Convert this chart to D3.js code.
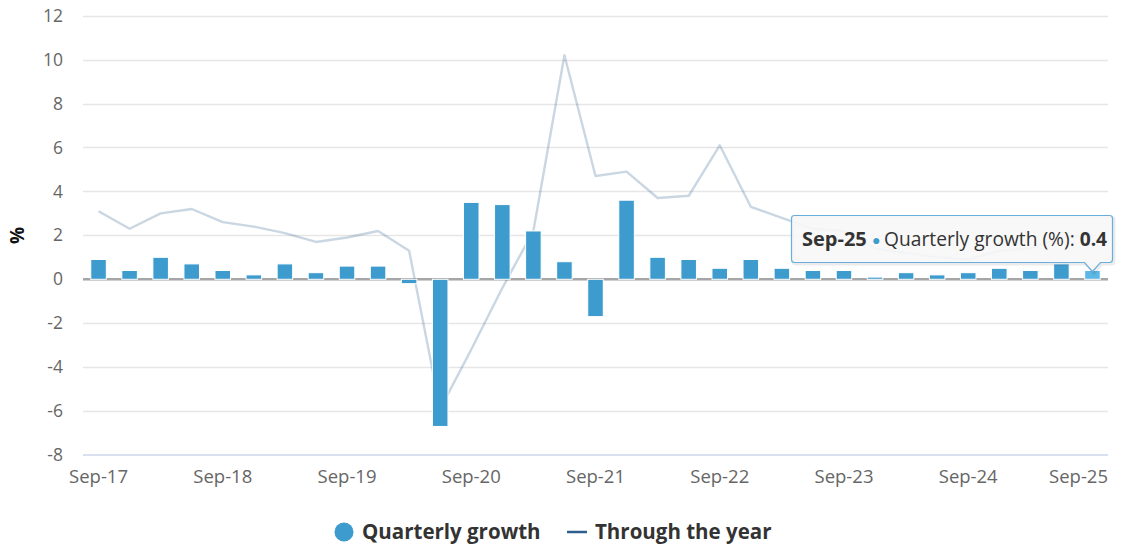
<!DOCTYPE html>
<html>
<head>
<meta charset="utf-8">
<script src="https://cdn.jsdelivr.net/npm/d3@7"></script>
<style>
  body { margin: 0; background: #fff; }
  svg { display: block; font-family: "Open Sans", sans-serif; }
</style>
</head>
<body>
<div id="chart"></div>
<script>
// Quarter labels, Sep-17 .. Sep-25
const quarters = [
  "Sep-17", "Dec-17", "Mar-18", "Jun-18", "Sep-18", "Dec-18", "Mar-19", "Jun-19",
  "Sep-19", "Dec-19", "Mar-20", "Jun-20", "Sep-20", "Dec-20", "Mar-21", "Jun-21",
  "Sep-21", "Dec-21", "Mar-22", "Jun-22", "Sep-22", "Dec-22", "Mar-23", "Jun-23",
  "Sep-23", "Dec-23", "Mar-24", "Jun-24", "Sep-24", "Dec-24", "Mar-25", "Jun-25",
  "Sep-25"
];

// Quarterly growth (%), bars
const quarterlyGrowth = [
  0.9, 0.4, 1.0, 0.7, 0.4, 0.2, 0.7, 0.3,
  0.6, 0.6, -0.2, -6.7, 3.5, 3.4, 2.2, 0.8,
  -1.7, 3.6, 1.0, 0.9, 0.5, 0.9, 0.5, 0.4,
  0.4, 0.1, 0.3, 0.2, 0.3, 0.5, 0.4, 0.7,
  0.4
];

// Through the year (%), line
const throughYear = [
  3.1, 2.3, 3.0, 3.2, 2.6, 2.4, 2.1, 1.7,
  1.9, 2.2, 1.3, -5.9, -3.2, -0.4, 2.2, 10.2,
  4.7, 4.9, 3.7, 3.8, 6.1, 3.3, 2.8, 2.3,
  2.2, 1.4, 1.2, 1.0, 0.9, 1.3, 1.4, 1.9,
  2.0
];

const yTicks = [-8, -6, -4, -2, 0, 2, 4, 6, 8, 10, 12];
const xTickLabels = ["Sep-17", "Sep-18", "Sep-19", "Sep-20", "Sep-21", "Sep-22", "Sep-23", "Sep-24", "Sep-25"];
const hoverIndex = quarters.indexOf("Sep-25");

const width = 1124, height = 544;
const margin = {top: 15.7, right: 16, bottom: 89, left: 83};

const barColor = "#3d9bce";
const barHover = "#5cb6e6";
const lineColor = "#2c5f8c";

const svg = d3.select("#chart").append("svg")
  .attr("width", width)
  .attr("height", height);

const x = d3.scaleBand()
  .domain(quarters)
  .range([margin.left, width - margin.right])
  .paddingInner(0.5)
  .paddingOuter(0.25);

const y = d3.scaleLinear()
  .domain([-8, 12])
  .range([height - margin.bottom, margin.top]);

// gridlines
svg.append("g")
  .selectAll("line")
  .data(yTicks.filter(d => d !== -8))
  .join("line")
    .attr("x1", margin.left)
    .attr("x2", width - margin.right)
    .attr("y1", d => Math.round(y(d)) + 0.5)
    .attr("y2", d => Math.round(y(d)) + 0.5)
    .attr("stroke", "#e6e6e6")
    .attr("stroke-width", 1.3);

// bottom axis line
svg.append("line")
  .attr("x1", margin.left)
  .attr("x2", width - margin.right)
  .attr("y1", y(-8))
  .attr("y2", y(-8))
  .attr("stroke", "#ccd6eb")
  .attr("stroke-width", 1.3);

// y tick labels
const yAxis = d3.axisLeft(y).tickValues(yTicks).tickFormat(d => String(d)).tickSize(0).tickPadding(0);
const gy = svg.append("g")
  .attr("transform", `translate(${margin.left - 20},0)`)
  .call(yAxis);
gy.select(".domain").remove();
gy.selectAll("text")
  .attr("fill", "#666")
  .attr("font-size", 17.5)
  .attr("font-family", "Open Sans");

// x tick labels (only Sep quarters)
const xAxis = d3.axisBottom(x).tickValues(xTickLabels).tickSize(0).tickPadding(0);
const gx = svg.append("g")
  .attr("transform", `translate(0,${y(-8) + 15})`)
  .call(xAxis);
gx.select(".domain").remove();
gx.selectAll("text")
  .attr("fill", "#666")
  .attr("font-size", 18.5)
  .attr("font-family", "Open Sans");
// last label kept inside the chart like the original
gx.selectAll(".tick")
  .filter(d => d === "Sep-25")
  .select("text")
  .attr("text-anchor", "end")
  .attr("x", (width - margin.right) - x("Sep-25") - x.bandwidth() / 2);

// y axis title
svg.append("text")
  .attr("transform", `translate(24,${y(2)}) rotate(-90)`)
  .attr("text-anchor", "middle")
  .attr("font-size", 19)
  .attr("font-weight", "bold")
  .attr("fill", "#111")
  .text("%");

// zero line
svg.append("line")
  .attr("x1", margin.left)
  .attr("x2", width - margin.right)
  .attr("y1", y(0))
  .attr("y2", y(0))
  .attr("stroke", "#a6a6a6")
  .attr("stroke-width", 2.5);

// line series (faded, tooltip is on the bar series)
const line = d3.line()
  .x((d, i) => x(quarters[i]) + x.bandwidth() / 2)
  .y(d => y(d));

svg.append("path")
  .datum(throughYear)
  .attr("d", line)
  .attr("fill", "none")
  .attr("stroke", lineColor)
  .attr("stroke-opacity", 0.25)
  .attr("stroke-width", 2.4)
  .attr("stroke-linejoin", "round");

// bars
svg.append("g")
  .selectAll("rect")
  .data(quarterlyGrowth)
  .join("rect")
    .attr("x", (d, i) => x(quarters[i]))
    .attr("width", x.bandwidth())
    .attr("y", d => y(Math.max(0, d)))
    .attr("height", d => Math.abs(y(d) - y(0)))
    .attr("fill", (d, i) => i === hoverIndex ? barHover : barColor)
    .attr("stroke", "#fff")
    .attr("stroke-width", 1);

// tooltip
const tip = svg.append("g");
const tipText = tip.append("text")
  .attr("x", 802)
  .attr("y", 246)
  .attr("font-size", 19.2)
  .attr("fill", "#333");
tipText.append("tspan").attr("font-weight", "bold").attr("font-size", 20).text(quarters[hoverIndex] + " ");
tipText.append("tspan").attr("fill", barColor).attr("font-size", 14).attr("dy", -1).text("\u25CF ");
tipText.append("tspan").attr("dy", 1).text("Quarterly growth (%): ");
tipText.append("tspan").attr("font-weight", "bold").text(quarterlyGrowth[hoverIndex]);

const bb = tipText.node().getBBox();
const bx0 = 791.5, bx1 = Math.max(bb.x + bb.width + 5, 1112.5);
const by0 = 215.5, by1 = 262.5;
const px = x(quarters[hoverIndex]) + x.bandwidth() / 2;
const py = y(quarterlyGrowth[hoverIndex]) + 1;
const r = 3;
const tipPath = `M${bx0 + r},${by0} L${bx1 - r},${by0} Q${bx1},${by0} ${bx1},${by0 + r}
  L${bx1},${by1 - r} Q${bx1},${by1} ${bx1 - r},${by1}
  L${px + 8},${by1} L${px},${py} L${px - 8},${by1}
  L${bx0 + r},${by1} Q${bx0},${by1} ${bx0},${by1 - r}
  L${bx0},${by0 + r} Q${bx0},${by0} ${bx0 + r},${by0} Z`;

tip.insert("path", "text")
  .attr("d", tipPath)
  .attr("transform", "translate(1.5,1.5)")
  .attr("fill", "none")
  .attr("stroke", "rgba(0,0,0,0.08)")
  .attr("stroke-width", 3);
tip.insert("path", "text")
  .attr("d", tipPath)
  .attr("fill", "rgba(247,247,247,0.9)")
  .attr("stroke", "#6aaedb")
  .attr("stroke-width", 1.2);

// legend
const legend = svg.append("g").attr("font-size", 20.5).attr("font-weight", "bold").attr("fill", "#333");
legend.append("circle")
  .attr("cx", 344)
  .attr("cy", 532)
  .attr("r", 9.5)
  .attr("fill", barColor);
legend.append("text")
  .attr("x", 362)
  .attr("y", 538.5)
  .text("Quarterly growth");
legend.append("line")
  .attr("x1", 567)
  .attr("x2", 587)
  .attr("y1", 532)
  .attr("y2", 532)
  .attr("stroke", lineColor)
  .attr("stroke-width", 2.5);
legend.append("text")
  .attr("x", 595)
  .attr("y", 538.5)
  .text("Through the year");
</script>
</body>
</html>
